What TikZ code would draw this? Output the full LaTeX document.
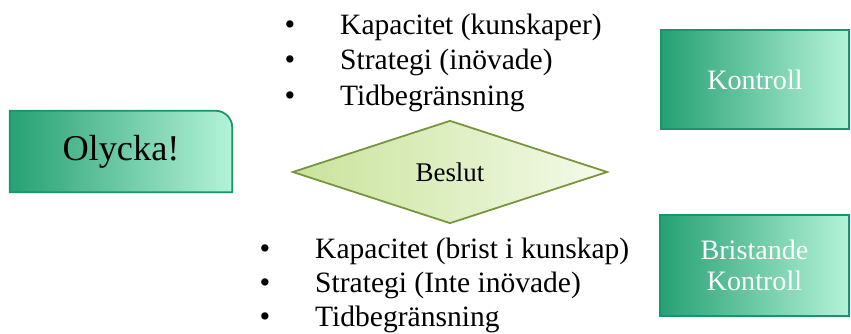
\documentclass[tikz,border=0pt]{standalone}
\usepackage{fontspec}
\setmainfont{Liberation Serif}
\usetikzlibrary{shapes.geometric}
\pgfdeclarelayer{background}
\pgfsetlayers{background,main}
\definecolor{gdark}{HTML}{26A074}
\definecolor{gmid}{HTML}{66DBA9}
\definecolor{glight}{HTML}{B4F3D8}
\definecolor{gborder}{HTML}{17966C}
\definecolor{ldark}{HTML}{C9E39A}
\definecolor{llight}{HTML}{F4FAEA}
\definecolor{lborder}{HTML}{77933C}
\tikzset{
  gbox/.style={rectangle, inner sep=0pt, draw=gborder, line width=1.5pt,
    left color=gdark, middle color=gmid, right color=glight, text=white,
    align=center, font=\fontsize{24}{27}\selectfont},
  listtxt/.style={anchor=base west, inner sep=0pt, font=\fontsize{25.2}{29}\selectfont},
  bul/.style={anchor=base, inner sep=0pt, font=\fontsize{26}{29}\selectfont},
}
\begin{document}
\begin{tikzpicture}[x=0.03cm,y=0.03cm]
\useasboundingbox (0,0) rectangle (851,333);
% Olycka
\node[inner sep=0pt, minimum width=6.66cm, minimum height=2.43cm,
  font=\fontsize{31}{33}\selectfont] (oly) at (121,181.5) {Olycka!};
\begin{pgfonlayer}{background}
\shadedraw[left color=gdark, middle color=gmid, right color=glight, draw=gborder, line width=1.5pt]
  (oly.south west) -- (oly.north west) -- ([xshift=-0.5cm]oly.north east)
  arc[start angle=90, end angle=0, radius=0.5cm] -- (oly.south east) -- cycle;
\end{pgfonlayer}
% right boxes
\node[gbox, minimum width=5.64cm, minimum height=2.97cm] (kon) at (755,253.5) {Kontroll};
\node[gbox, minimum width=5.67cm, minimum height=3.03cm] (bri) at (754.5,67.5) {Bristande\\Kontroll};
% diamond
\node[diamond, aspect=3.06, minimum width=9.45cm, minimum height=3.09cm, inner sep=0pt,
  draw=lborder, line width=1.5pt, left color=ldark, right color=llight,
  font=\fontsize{23}{24}\selectfont] (bes) at (450,161) {Beslut};
% top list
\node[bul] (tb1) at (290,298) {\textbullet};
\node[bul] (tb2) at (290,263) {\textbullet};
\node[bul] (tb3) at (290,227) {\textbullet};
\node[listtxt] (t1) at (340,298) {Kapacitet (kunskaper)};
\node[listtxt] (t2) at (340,263) {Strategi (inövade)};
\node[listtxt] (t3) at (340,227) {Tidbegränsning};
% bottom list
\node[bul] (bb1) at (265,75) {\textbullet};
\node[bul] (bb2) at (265,41) {\textbullet};
\node[bul] (bb3) at (265,7) {\textbullet};
\node[listtxt] (b1) at (315,75) {Kapacitet (brist i kunskap)};
\node[listtxt] (b2) at (315,41) {Strategi (Inte inövade)};
\node[listtxt] (b3) at (315,7) {Tidbegränsning};
\end{tikzpicture}
\end{document}
